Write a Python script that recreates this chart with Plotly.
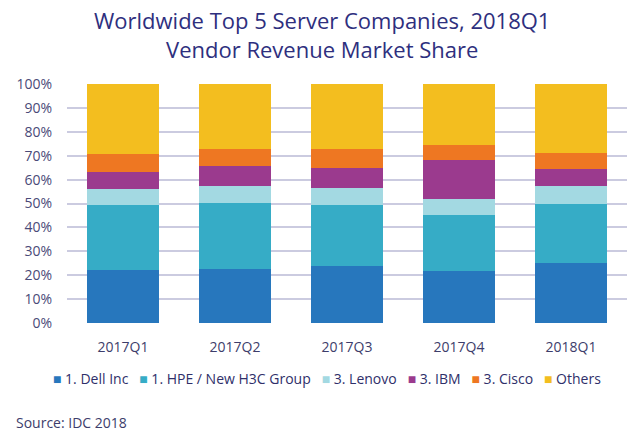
import plotly.graph_objects as go

quarters = ["2017Q1", "2017Q2", "2017Q3", "2017Q4", "2018Q1"]
series_names = ["1. Dell Inc", "1. HPE / New H3C Group", "3. Lenovo", "3. IBM", "3. Cisco", "Others"]
dell = [22.3, 22.7, 23.7, 21.9, 24.9]
hpe = [26.9, 27.4, 25.7, 23.1, 24.8]
lenovo = [6.9, 7.3, 7.0, 6.8, 7.8]
ibm = [7.0, 8.1, 8.6, 16.4, 6.8]
cisco = [7.7, 7.5, 7.7, 6.3, 7.0]
others = [29.2, 27.0, 27.3, 25.5, 28.7]
series_values = [dell, hpe, lenovo, ibm, cisco, others]
colors = ["#2777BD", "#36ACC6", "#A3D9E2", "#9B3A8E", "#EE7722", "#F3BE1F"]
y_ticks = list(range(0, 101, 10))
y_tick_labels = [f"{v}%" for v in y_ticks]

FONT = "Open Sans"
fig = go.Figure()
for name, vals, col in zip(series_names, series_values, colors):
    fig.add_trace(go.Bar(x=quarters, y=vals, name=name, marker=dict(color=col, line=dict(width=0)),
                         showlegend=False))

fig.update_layout(
    barmode="stack",
    bargap=0.36,
    width=640, height=434,
    margin=dict(l=67, r=13, t=84, b=111),
    paper_bgcolor="white", plot_bgcolor="white",
    font=dict(family=FONT, color="#3d3d6b", size=13),
    xaxis=dict(showgrid=False, showline=False, ticks="", tickfont=dict(size=14, color="#3d3d6b"),
               ticklabelstandoff=14),
    yaxis=dict(range=[0, 100], tickvals=y_ticks, ticktext=y_tick_labels, showgrid=True,
               gridcolor="#CBCBE0", gridwidth=1.5, zeroline=False, showline=False,
               tickfont=dict(size=14, color="#4a4a78"), ticklabelstandoff=14),
)

fig.add_annotation(text="Worldwide Top 5 Server Companies, 2018Q1<br>Vendor Revenue Market Share",
                   xref="paper", yref="paper", x=(322 - 67) / 560, y=1, xanchor="center", yanchor="bottom",
                   yshift=18, showarrow=False,
                   font=dict(family=FONT, size=22, color="#2E2F7E"), align="center")

legend_html = "   ".join(f"<span style='color:{c}'>■</span> {n}" for n, c in zip(series_names, colors))
fig.add_annotation(text=legend_html, xref="paper", yref="paper", x=(327 - 67) / 560, y=0,
                   xanchor="center", yanchor="middle", yshift=-55, showarrow=False,
                   font=dict(family=FONT, size=14, color="#2f2f6a"))
fig.add_annotation(text="Source: IDC 2018", xref="paper", yref="paper", x=0, y=0,
                   xanchor="left", yanchor="middle", xshift=-67 + 14, yshift=-99, showarrow=False,
                   font=dict(family=FONT, size=14, color="#3d3d6b"))

fig.write_html("out.html")
